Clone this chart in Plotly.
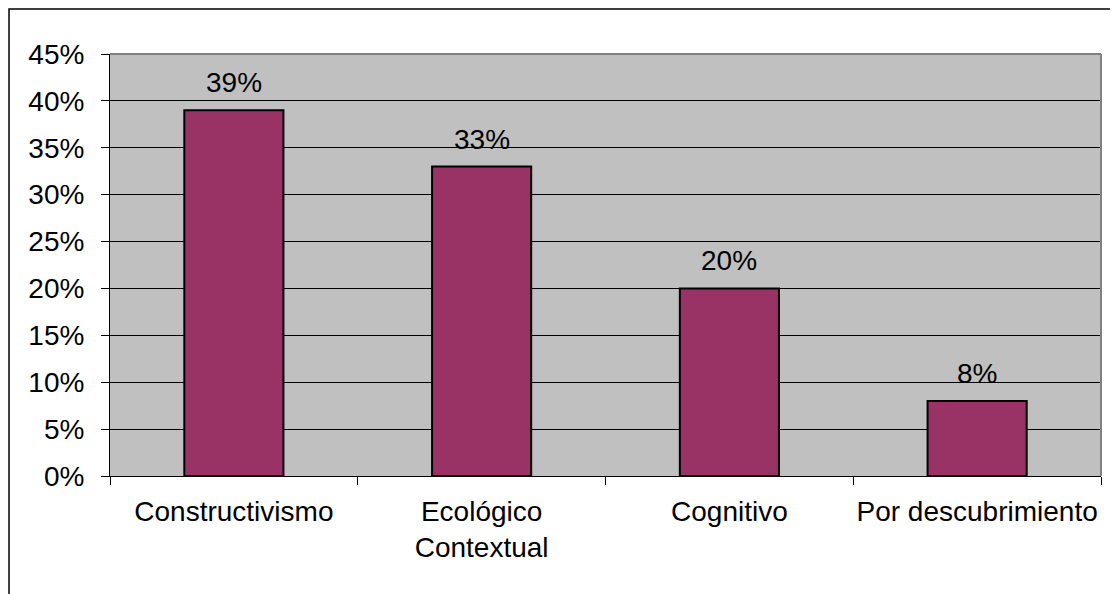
import plotly.graph_objects as go

categories = ["Constructivismo", "Ecológico<br>Contextual", "Cognitivo", "Por descubrimiento"]
values = [0.39, 0.33, 0.20, 0.08]
label_texts = ["39%", "33%", "20%", "8%"]

FONT = "Liberation Sans, Arial, sans-serif"
FS = 28

fig = go.Figure()
fig.add_trace(go.Bar(
    x=categories, y=values, width=0.4,
    marker=dict(color="#993366", line=dict(color="black", width=2)),
    hoverinfo="skip",
))

for c, v, t in zip(categories, values, label_texts):
    fig.add_annotation(x=c, y=v, text=t, showarrow=False, yanchor="bottom",
                       yshift=10, font=dict(size=FS, color="black", family=FONT))

# gray top/right plot border
fig.add_shape(type="line", xref="paper", yref="paper", x0=0, x1=1, y0=1, y1=1,
              line=dict(color="#808080", width=2))
fig.add_shape(type="line", xref="paper", yref="paper", x0=1, x1=1, y0=0, y1=1,
              line=dict(color="#808080", width=2))
# outer chart border
fig.add_shape(type="rect", xref="paper", yref="paper", x0=-0.1019, x1=1.2, y0=-0.5, y1=1.1066,
              line=dict(color="black", width=1.5), layer="below")

fig.update_layout(
    width=1110, height=586,
    margin=dict(l=102, r=17, t=46, b=118, autoexpand=False),
    paper_bgcolor="white", plot_bgcolor="#C0C0C0",
    font=dict(family=FONT, size=FS, color="black"),
    showlegend=False,
)
fig.update_xaxes(
    type="category", tickson="boundaries", ticks="outside", ticklen=8, tickcolor="black",
    showline=True, linecolor="black", linewidth=1, showgrid=False, tickangle=0, automargin=False,
    tickfont=dict(size=FS, color="black", family=FONT), ticklabelstandoff=10,
)
fig.update_yaxes(
    range=[0, 0.45], dtick=0.05, tickformat=".0%", ticks="outside", ticklen=8, tickcolor="black",
    showline=True, linecolor="black", linewidth=1, showgrid=True, gridcolor="black", gridwidth=1,
    zeroline=False, automargin=False,
    tickfont=dict(size=FS, color="black", family=FONT), ticklabelstandoff=11,
)

fig.write_html("out.html")
